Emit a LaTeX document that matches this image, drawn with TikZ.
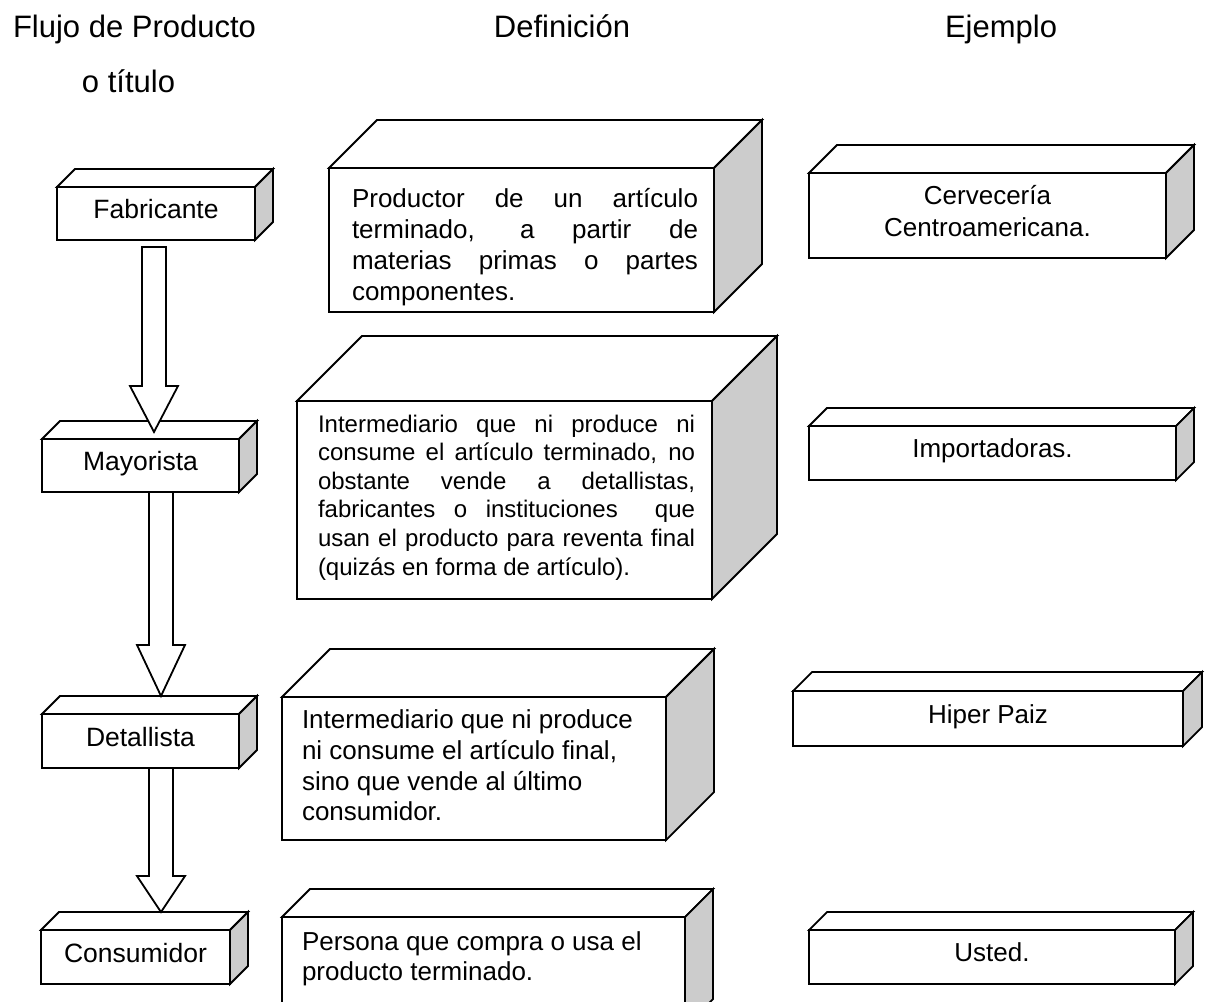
\documentclass[tikz,border=0pt]{standalone}
\usepackage{fontspec}
\setmainfont{Liberation Sans}
\usetikzlibrary{calc}

\definecolor{sidegray}{RGB}{204,204,204}

% a fully justified line of fixed width
\newcommand\jline[1]{\makebox[\linewidth][s]{#1}\par}

% top and right faces of a cuboid whose front face is the node #1, depth #2
\newcommand\boxfaces[2]{%
  \draw[edge, fill=white] (#1.north west) -- ++(#2,-#2)
     -- ($(#1.north east)+(#2,-#2)$) -- (#1.north east) -- cycle;
  \draw[edge, fill=sidegray] (#1.north east) -- ++(#2,-#2)
     -- ($(#1.south east)+(#2,-#2)$) -- (#1.south east) -- cycle;
}

% hollow block arrow from tail #1 to tip #2, head length #3
\newcommand\blockarrow[3]{%
  \draw[edge, fill=white] ($(#1)+(-12,0)$) -- ($(#2)+(-12,-#3)$)
     -- ($(#2)+(-24,-#3)$) -- (#2) -- ($(#2)+(24,-#3)$)
     -- ($(#2)+(12,-#3)$) -- ($(#1)+(12,0)$) -- cycle;
}

\begin{document}
\begin{tikzpicture}[x=1pt, y=-1pt,
  edge/.style={line width=1.8pt, line join=miter},
  face/.style={draw, fill=white, line width=1.8pt, rectangle,
               inner sep=0pt, outer sep=0pt, align=center, text depth=9pt},
  leftface/.style={face, font=\fontsize{26.5}{32}\selectfont},
  rightface/.style={face, font=\fontsize{26}{32}\selectfont},
  header/.style={anchor=base, inner sep=0pt, font=\fontsize{31}{37}\selectfont},
  deftext/.style={anchor=base west, inner sep=0pt, outer sep=0pt}
]
\useasboundingbox (0,0) rectangle (1209,1001);
\clip (0,0) rectangle (1209,1001);

% column headings
\node[header] (h1)  at (134.5,37)   {Flujo de Producto};
\node[header] (h1b) at (128.5,92.7) {o título};
\node[header] (h2)  at (562,37)     {Definición};
\node[header] (h3)  at (1001,37)    {Ejemplo};

% ---- left column: the chain of agents
\node[leftface, minimum width=198pt, minimum height=53pt] (fab) at (156,213.5) {Fabricante};
\boxfaces{fab}{18}
\node[leftface, minimum width=197pt, minimum height=53pt] (may) at (140.5,465.5) {Mayorista};
\boxfaces{may}{18}
\node[leftface, minimum width=197pt, minimum height=54pt] (det) at (140.5,741) {Detallista};
\boxfaces{det}{18}
\node[leftface, minimum width=189pt, minimum height=54pt] (con) at (135.5,957) {Consumidor};
\boxfaces{con}{18}

% ---- middle column: definitions
\node[face, minimum width=385pt, minimum height=144pt] (def1) at (521.5,240) {};
\boxfaces{def1}{48}
\node[deftext] (def1t) at ($(def1.north west)+(23,39)$)
  {\parbox[t]{346pt}{\fontsize{26}{31}\selectfont
   \jline{Productor de un artículo}
   \jline{terminado, a partir de}
   \jline{materias primas o partes}
   componentes.}};

\node[face, minimum width=415pt, minimum height=198pt] (def2) at (504.5,500) {};
\boxfaces{def2}{65}
\node[deftext] (def2t) at ($(def2.north west)+(21,31)$)
  {\parbox[t]{377pt}{\fontsize{24}{28.6}\selectfont
   \jline{Intermediario que ni produce ni}
   \jline{consume el artículo terminado, no}
   \jline{obstante vende a detallistas,}
   \jline{fabricantes o instituciones \ que}
   \jline{usan el producto para reventa final}
   (quizás en forma de artículo).}};

\node[face, minimum width=384pt, minimum height=143pt] (def3) at (474,768.5) {};
\boxfaces{def3}{48}
\node[deftext] (def3t) at ($(def3.north west)+(20,31.6)$)
  {\parbox[t]{360pt}{\fontsize{26}{30.7}\selectfont\raggedright
   Intermediario que ni produce\\
   ni consume el artículo final,\\
   sino que vende al último\\
   consumidor.}};

\node[face, minimum width=403pt, minimum height=110pt] (def4) at (483.5,972) {};
\boxfaces{def4}{28}
\node[deftext] (def4t) at ($(def4.north west)+(20,33)$)
  {\parbox[t]{380pt}{\fontsize{26}{30.5}\selectfont\raggedright
   Persona que compra o usa el\\
   producto terminado.}};

% ---- right column: examples
\node[rightface, minimum width=357pt, minimum height=85pt] (ej1) at (987.5,215.5) {Cervecería\\Centroamericana.};
\boxfaces{ej1}{28}
\node[rightface, minimum width=367pt, minimum height=54pt] (ej2) at (992.5,453) {Importadoras.};
\boxfaces{ej2}{18}
\node[rightface, minimum width=390pt, minimum height=55pt] (ej3) at (988,718.5) {Hiper Paiz};
\boxfaces{ej3}{19}
\node[rightface, minimum width=366pt, minimum height=54pt] (ej4) at (992,957) {Usted.};
\boxfaces{ej4}{18}

% ---- flow arrows between the agents
\blockarrow{$(fab.south)+(-2,7)$}{$(may.north)+(13.5,-7)$}{46}
\blockarrow{$(may.south)+(20.5,0)$}{$(det.north)+(20.5,-18)$}{51}
\blockarrow{$(det.south)+(20.5,0)$}{$(con.north)+(25.5,-18)$}{36}
\end{tikzpicture}
\end{document}
